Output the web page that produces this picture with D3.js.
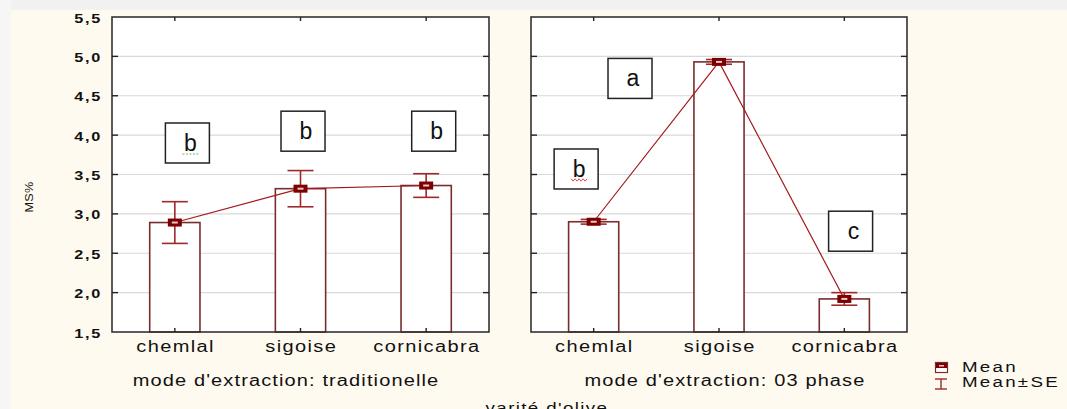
<!DOCTYPE html>
<html>
<head>
<meta charset="utf-8">
<script src="https://cdn.jsdelivr.net/npm/d3@7"></script>
<style>
  html, body { margin: 0; padding: 0; background: #fffaf0; }
  svg { display: block; }
  text { font-family: "Liberation Sans", Arial, sans-serif; fill: #111; }
</style>
</head>
<body>
<svg id="chart" width="1067" height="409"></svg>
<script>
// Data
const categories = ['chemlal', 'sigoise', 'cornicabra'];
const panelTitles = ["mode d'extraction: traditionelle", "mode d'extraction: 03 phase"];
const meansTrad = [2.89, 3.32, 3.36];
const seTrad = [0.265, 0.23, 0.15];
const means3p = [2.90, 4.93, 1.92];
const se3p = [0.03, 0.03, 0.08];
const lettersTrad = ['b', 'b', 'b'];
const letters3p = ['b', 'a', 'c'];
// letter box anchor: [category index (fractional), value]
const letterPosTrad = [[0.1, 3.9], [1.02, 4.05], [2.06, 4.05]];
const letterPos3p = [[-0.14, 3.57], [0.29, 4.72], [2.05, 2.78]];
// spell-check underline under a letter: '' none, 'dot' green dotted, 'wave' red wavy
const letterMarkTrad = ['dot', '', ''];
const letterMark3p = ['wave', '', ''];
const yTicks = [1.5, 2.0, 2.5, 3.0, 3.5, 4.0, 4.5, 5.0, 5.5];
const yLabel = 'MS%';
const xLabel = "varité d'olive";
const legendLabels = ['Mean', 'Mean±SE'];

const svg = d3.select('#chart');

// Statistica-like wide text: horizontally stretched glyphs
function wideText(parent, x, y, str, size, ls, anchor, extra) {
  const t = parent.append('text')
    .attr('transform', `translate(${x},${y}) scale(1.25,1)` + (extra || ''))
    .attr('font-size', size)
    .attr('letter-spacing', ls)
    .attr('text-anchor', anchor || 'start')
    .text(str);
  return t;
}

// background strips
svg.append('rect').attr('x', 0).attr('y', 0).attr('width', 1067).attr('height', 409).attr('fill', '#fffaf0');
svg.append('rect').attr('x', 0).attr('y', 0).attr('width', 1067).attr('height', 10).attr('fill', '#f1f1f1');
svg.append('rect').attr('x', 0).attr('y', 0).attr('width', 11).attr('height', 409).attr('fill', '#f6f6f6');

const plotTop = 17, plotBottom = 332;
const y = d3.scaleLinear().domain([1.5, 5.5]).range([plotBottom, plotTop]);
const fmt = d => d3.format('.1f')(d).replace('.', ',');

const panels = [
  { left: 112, right: 489, means: meansTrad, se: seTrad, letters: lettersTrad, pos: letterPosTrad, marks: letterMarkTrad, title: panelTitles[0], titleX: 286 },
  { left: 531, right: 907, means: means3p, se: se3p, letters: letters3p, pos: letterPos3p, marks: letterMark3p, title: panelTitles[1], titleX: 725 }
];

const barColor = '#7b2c2c';
const lineColor = '#a3181c';
const errColor = '#a0282a';
const markColor = '#7d0000';

panels.forEach((p, pi) => {
  const g = svg.append('g');
  const x = d3.scalePoint().domain(categories).range([p.left, p.right]).padding(0.5);
  const step = x.step();
  const xi = d3.scaleLinear().domain([0, 2]).range([x(categories[0]), x(categories[2])]);
  const barW = step * 0.4;

  // plot area
  g.append('rect').attr('x', p.left).attr('y', plotTop)
    .attr('width', p.right - p.left).attr('height', plotBottom - plotTop).attr('fill', '#fff');

  // gridlines
  g.selectAll('.grid').data(yTicks.slice(1, -1)).enter().append('line')
    .attr('x1', p.left).attr('x2', p.right)
    .attr('y1', d => y(d)).attr('y2', d => y(d))
    .attr('stroke', '#d9d9d9').attr('stroke-width', 1.2);

  // bars
  g.selectAll('.bar').data(p.means).enter().append('rect')
    .attr('x', (d, i) => x(categories[i]) - barW / 2)
    .attr('y', d => y(d))
    .attr('width', barW)
    .attr('height', d => plotBottom - y(d))
    .attr('fill', '#fff').attr('stroke', barColor).attr('stroke-width', 1.6);

  // connecting line
  const line = d3.line().x((d, i) => x(categories[i])).y(d => y(d));
  g.append('path').datum(p.means).attr('d', line)
    .attr('fill', 'none').attr('stroke', lineColor).attr('stroke-width', 1.2);

  // error bars + mean markers
  const capW = 26;
  p.means.forEach((m, i) => {
    const cx = x(categories[i]);
    const hi = y(m + p.se[i]), lo = y(m - p.se[i]);
    g.append('line').attr('x1', cx).attr('x2', cx).attr('y1', hi).attr('y2', lo)
      .attr('stroke', errColor).attr('stroke-width', 1.6);
    [hi, lo].forEach(yy => {
      g.append('line').attr('x1', cx - capW / 2).attr('x2', cx + capW / 2)
        .attr('y1', yy).attr('y2', yy).attr('stroke', errColor).attr('stroke-width', 1.6);
    });
    g.append('rect').attr('x', cx - 7).attr('y', y(m) - 4).attr('width', 14).attr('height', 8)
      .attr('fill', markColor);
    g.append('rect').attr('x', cx - 3).attr('y', y(m) - 1).attr('width', 6).attr('height', 2)
      .attr('fill', '#e8c8c8');
  });

  // letter boxes
  p.letters.forEach((l, i) => {
    const cx = xi(p.pos[i][0]), cy = y(p.pos[i][1]);
    g.append('rect').attr('x', cx - 22).attr('y', cy - 20).attr('width', 44).attr('height', 40)
      .attr('fill', '#fff').attr('stroke', '#222').attr('stroke-width', 1.5);
    g.append('text').attr('x', cx + 3).attr('y', cy + 8)
      .attr('text-anchor', 'middle').attr('font-size', 23).text(l);
    if (p.marks[i] === 'dot') {
      g.append('line').attr('x1', cx - 5).attr('x2', cx + 11).attr('y1', cy + 11).attr('y2', cy + 11)
        .attr('stroke', '#6fb36f').attr('stroke-width', 1.2).attr('stroke-dasharray', '2,1.5');
    } else if (p.marks[i] === 'wave') {
      const wave = d3.range(0, 17, 2).map((d, k) => [cx - 5 + d, cy + 11 + (k % 2 ? 1.2 : -1.2)]);
      g.append('path').attr('d', d3.line()(wave))
        .attr('fill', 'none').attr('stroke', '#e05050').attr('stroke-width', 1);
    }
  });

  // frame
  g.append('rect').attr('x', p.left).attr('y', plotTop)
    .attr('width', p.right - p.left).attr('height', plotBottom - plotTop)
    .attr('fill', 'none').attr('stroke', '#333').attr('stroke-width', 1.6);

  // inward ticks: left/right
  yTicks.slice(1, -1).forEach(t => {
    g.append('line').attr('x1', p.left).attr('x2', p.left + 6).attr('y1', y(t)).attr('y2', y(t))
      .attr('stroke', '#222').attr('stroke-width', 1.4);
    g.append('line').attr('x1', p.right - 6).attr('x2', p.right).attr('y1', y(t)).attr('y2', y(t))
      .attr('stroke', '#222').attr('stroke-width', 1.4);
  });
  // inward ticks: top/bottom
  categories.forEach(c => {
    g.append('line').attr('x1', x(c)).attr('x2', x(c)).attr('y1', plotTop).attr('y2', plotTop + 4)
      .attr('stroke', '#222').attr('stroke-width', 1.4);
    g.append('line').attr('x1', x(c)).attr('x2', x(c)).attr('y1', plotBottom - 4).attr('y2', plotBottom)
      .attr('stroke', '#222').attr('stroke-width', 1.4);
  });

  // category labels
  categories.forEach(c => wideText(g, x(c) + 0.7, 352, c, 16, 1.1, 'middle'));

  // panel title
  wideText(g, p.titleX, 386, p.title, 16, 0.9, 'middle');

  // y tick labels only on first panel
  if (pi === 0) {
    yTicks.forEach(t => wideText(g, 102, y(t) + 5.5, fmt(t), 13, 1.4, 'end').attr('font-weight', 'bold'));
  }
});

// y axis title
wideText(svg, 33, 197, yLabel, 11, 0.3, 'middle', '').attr('transform', 'translate(33,197) rotate(-90) scale(1.15,1)');

// x axis title (cut at bottom as in the original)
wideText(svg, 547, 413, xLabel, 15, 1.1, 'middle');

// legend
const lg = svg.append('g');
lg.append('rect').attr('x', 935.5).attr('y', 362.5).attr('width', 12).attr('height', 10)
  .attr('fill', '#fff').attr('stroke', barColor).attr('stroke-width', 1.2);
lg.append('rect').attr('x', 936).attr('y', 363).attr('width', 11).attr('height', 5).attr('fill', markColor);
lg.append('rect').attr('x', 939).attr('y', 365).attr('width', 5).attr('height', 1.5).attr('fill', '#e8c8c8');
lg.append('line').attr('x1', 935).attr('x2', 947).attr('y1', 379).attr('y2', 379).attr('stroke', errColor).attr('stroke-width', 1.4);
lg.append('line').attr('x1', 941).attr('x2', 941).attr('y1', 379).attr('y2', 389).attr('stroke', errColor).attr('stroke-width', 1.4);
lg.append('line').attr('x1', 935).attr('x2', 947).attr('y1', 389).attr('y2', 389).attr('stroke', errColor).attr('stroke-width', 1.4);
legendLabels.forEach((d, i) => wideText(lg, 962, 372 + i * 15, d, 15, 1.8, 'start'));
</script>
</body>
</html>
